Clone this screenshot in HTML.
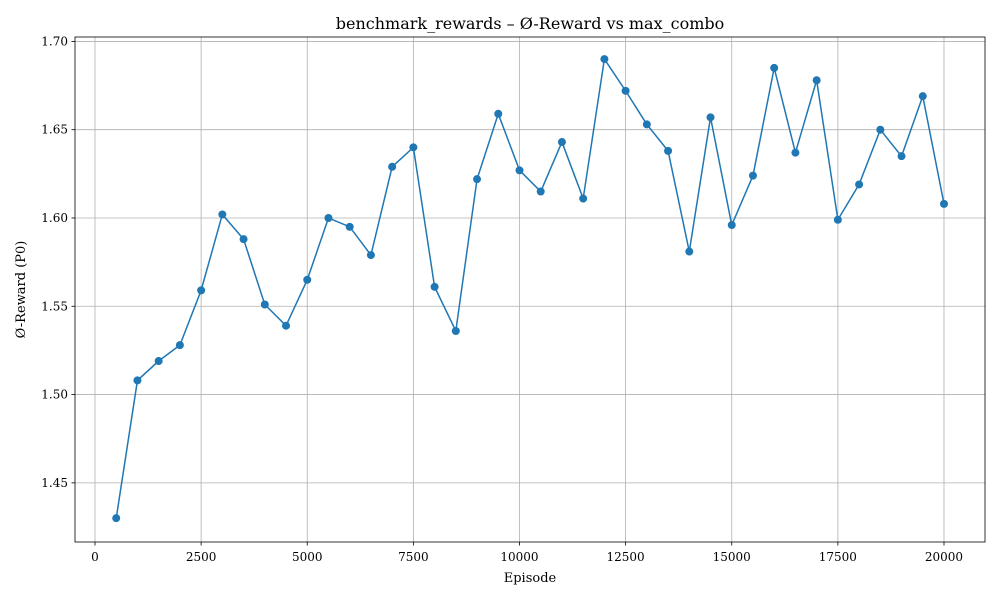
<!DOCTYPE html>
<html><head><meta charset="utf-8"><style>
body{margin:0;background:#fff;}
svg text{font-family:"DejaVu Serif","Liberation Serif",serif;fill:#000;}
</style></head><body>
<svg id="chart" width="1000" height="600" xmlns="http://www.w3.org/2000/svg"></svg>
<script>
const episodes=[500,1000,1500,2000,2500,3000,3500,4000,4500,5000,5500,6000,6500,7000,7500,8000,8500,9000,9500,10000,10500,11000,11500,12000,12500,13000,13500,14000,14500,15000,15500,16000,16500,17000,17500,18000,18500,19000,19500,20000];
const rewards=[1.430,1.508,1.519,1.528,1.559,1.602,1.588,1.551,1.539,1.565,1.600,1.595,1.579,1.629,1.640,1.561,1.536,1.622,1.659,1.627,1.615,1.643,1.611,1.690,1.672,1.653,1.638,1.581,1.657,1.596,1.624,1.685,1.637,1.678,1.599,1.619,1.650,1.635,1.669,1.608];
const xTicks=[0,2500,5000,7500,10000,12500,15000,17500,20000];
const yTicks=[1.45,1.50,1.55,1.60,1.65,1.70];
const yTickLabels=["1.45","1.50","1.55","1.60","1.65","1.70"];

const NS="http://www.w3.org/2000/svg";
const svg=document.getElementById('chart');
const L=75,R=985,T=37,B=542;
const xMin=-471,xMax=20966,yMin=1.4165,yMax=1.7025;
const sx=v=>L+(v-xMin)/(xMax-xMin)*(R-L);
const sy=v=>B-(v-yMin)/(yMax-yMin)*(B-T);
function mk(tag,attrs,parent){const e=document.createElementNS(NS,tag);for(const k in attrs)e.setAttribute(k,attrs[k]);(parent||svg).appendChild(e);return e;}

const grid=mk('g',{});


xTicks.forEach(t=>{mk('line',{x1:sx(t),x2:sx(t),y1:T,y2:B,stroke:'#b0b0b0','stroke-width':0.8},grid);});
yTicks.forEach(t=>{mk('line',{x1:L,x2:R,y1:sy(t),y2:sy(t),stroke:'#b0b0b0','stroke-width':0.8},grid);});

const xa=mk('g',{});


xTicks.forEach(t=>{mk('line',{x1:sx(t),x2:sx(t),y1:B,y2:B+3.5,stroke:'#000','stroke-width':0.8},xa);
const tx=mk('text',{x:sx(t),y:B+19,'text-anchor':'middle','font-size':12},xa);tx.textContent=t;

});
const ya=mk('g',{});


yTicks.forEach((t,i)=>{mk('line',{x1:L-3.5,x2:L,y1:sy(t),y2:sy(t),stroke:'#000','stroke-width':0.8},ya);
const tx=mk('text',{x:L-7,y:sy(t)+4,'text-anchor':'end','font-size':12},ya);tx.textContent=yTickLabels[i];

});

const line=mk('polyline',{points:episodes.map((e,i)=>sx(e)+','+sy(rewards[i])).join(' '),fill:'none',stroke:'#1f77b4','stroke-width':1.5});


episodes.forEach((e,i)=>{const c=mk('circle',{cx:sx(e),cy:sy(rewards[i]),r:4,fill:'#1f77b4'});

});

const frame=mk('rect',{x:L,y:T,width:R-L,height:B-T,fill:'none',stroke:'#000','stroke-width':0.8});



const title=mk('text',{x:(L+R)/2,y:29,'text-anchor':'middle','font-size':16});
title.textContent='benchmark_rewards – Ø-Reward vs max_combo';


const xl=mk('text',{x:(L+R)/2,y:582,'text-anchor':'middle','font-size':13});
xl.textContent='Episode';


const yl=mk('text',{x:0,y:0,'text-anchor':'middle','font-size':13,transform:'translate(25,'+((T+B)/2)+') rotate(-90)'});
yl.textContent='Ø-Reward (P0)';


</script>
</body></html>
